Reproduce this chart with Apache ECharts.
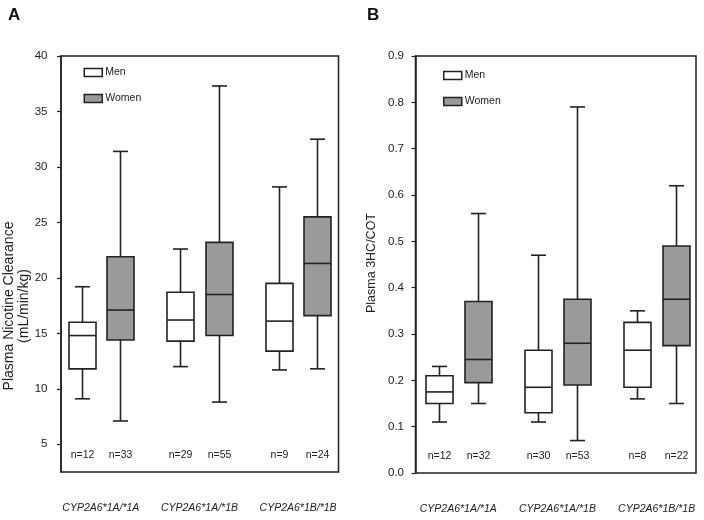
<!DOCTYPE html>
<html>
<head>
<meta charset="utf-8">
<script src="https://cdn.jsdelivr.net/npm/echarts@6/dist/echarts.min.js"></script>
<style>
html,body{margin:0;padding:0;background:#fff;}
#chart{width:704px;height:520px;}
</style>
</head>
<body>
<div id="chart"></div>
<script>
// ---------- data ----------
var genotypes = ['CYP2A6*1A/*1A', 'CYP2A6*1A/*1B', 'CYP2A6*1B/*1B'];
var seriesNames = ['Men', 'Women'];

// Panel A: Plasma nicotine clearance (mL/min/kg) — [min, Q1, median, Q3, max]
var clearanceMen   = [[9.1, 11.8, 14.8, 16.0, 19.2], [12.0, 14.3, 16.2, 18.7, 22.6], [11.7, 13.4, 16.1, 19.5, 28.2]];
var clearanceWomen = [[7.1, 14.4, 17.1, 21.9, 31.4], [8.8, 14.8, 18.5, 23.2, 37.3], [11.8, 16.6, 21.3, 25.5, 32.5]];
var clearanceMenN   = [12, 29, 9];
var clearanceWomenN = [33, 55, 24];
var clearanceTicks  = [5, 10, 15, 20, 25, 30, 35, 40];

// Panel B: Plasma 3HC/COT — [min, Q1, median, Q3, max]
var ratioMen   = [[0.11, 0.15, 0.175, 0.21, 0.23], [0.11, 0.13, 0.185, 0.265, 0.47], [0.16, 0.185, 0.265, 0.325, 0.35]];
var ratioWomen = [[0.15, 0.195, 0.245, 0.37, 0.56], [0.07, 0.19, 0.28, 0.375, 0.79], [0.15, 0.275, 0.375, 0.49, 0.62]];
var ratioMenN   = [12, 30, 8];
var ratioWomenN = [32, 53, 22];
var ratioTicks  = [0.0, 0.1, 0.2, 0.3, 0.4, 0.5, 0.6, 0.7, 0.8, 0.9];

// ---------- helpers ----------
var INK = '#222';
var FONT = 'Arial, "Liberation Sans", Helvetica, sans-serif';
var GRAY = '#9a9a9a';

function toData(stats) {
  return stats.map(function (s, i) { return [i].concat(s); });
}

function makeRender(offset, fill, counts) {
  return function (params, api) {
    var gx = api.value(0) + offset;
    var lo = api.coord([gx, api.value(1)]);
    var q1 = api.coord([gx, api.value(2)]);
    var md = api.coord([gx, api.value(3)]);
    var q3 = api.coord([gx, api.value(4)]);
    var hi = api.coord([gx, api.value(5)]);
    var cx = Math.round(lo[0]) + 0.5;
    var bw = 27, cw = 15;
    var cs = params.coordSys;
    var ls = { stroke: INK, lineWidth: 1.6 };
    return {
      type: 'group',
      children: [
        { type: 'line', shape: { x1: cx, y1: q3[1], x2: cx, y2: hi[1] }, style: ls },
        { type: 'line', shape: { x1: cx - cw / 2, y1: hi[1], x2: cx + cw / 2, y2: hi[1] }, style: ls },
        { type: 'line', shape: { x1: cx, y1: q1[1], x2: cx, y2: lo[1] }, style: ls },
        { type: 'line', shape: { x1: cx - cw / 2, y1: lo[1], x2: cx + cw / 2, y2: lo[1] }, style: ls },
        { type: 'rect', shape: { x: cx - bw / 2, y: q3[1], width: bw, height: q1[1] - q3[1] },
          style: { fill: fill, stroke: INK, lineWidth: 1.6 } },
        { type: 'line', shape: { x1: cx - bw / 2, y1: md[1], x2: cx + bw / 2, y2: md[1] }, style: ls },
        { type: 'text', x: cx, y: cs.y + cs.height - 17,
          style: { text: 'n=' + counts[params.dataIndex], fill: INK, font: '10.5px ' + FONT,
                   align: 'center', verticalAlign: 'middle' } }
      ]
    };
  };
}

function boxSeries(name, gi, stats, offset, fill, counts) {
  return {
    type: 'custom',
    name: name,
    xAxisIndex: gi,
    yAxisIndex: gi,
    data: toData(stats),
    encode: { x: 0, y: [1, 2, 3, 4, 5] },
    itemStyle: { color: fill, borderColor: INK, borderWidth: 1.5 },
    renderItem: makeRender(offset, fill, counts),
    silent: true,
    clip: false
  };
}

function xAxisFor(gi, min, max) {
  return {
    type: 'value', gridIndex: gi, min: min, max: max,
    axisLine: { show: false, onZero: false }, axisTick: { show: false }, splitLine: { show: false },
    axisLabel: {
      customValues: [0, 1, 2],
      formatter: function (v) { return genotypes[Math.round(v)]; },
      fontStyle: 'italic', fontSize: 10.5, color: INK, fontFamily: FONT, margin: 31
    }
  };
}

function yAxisFor(gi, min, max, ticks, digits, margin) {
  return {
    type: 'value', gridIndex: gi, min: min, max: max,
    axisLine: { show: true, onZero: false, lineStyle: { color: INK, width: 1.5 } },
    axisTick: { show: true, customValues: ticks, length: 4, lineStyle: { color: INK, width: 1.2 } },
    splitLine: { show: false },
    axisLabel: {
      customValues: ticks,
      formatter: function (v) { return digits ? v.toFixed(digits) : String(v); },
      fontSize: 11.5, color: INK, fontFamily: FONT, margin: margin
    }
  };
}

function legendFor(left, top) {
  return {
    orient: 'vertical', left: left, top: top, padding: 0,
    itemWidth: 18, itemHeight: 8, itemGap: 15,
    selectedMode: false,
    textStyle: { fontSize: 10.5, color: INK, fontFamily: FONT, padding: [0, 0, 0, -2] },
    data: [
      { name: seriesNames[0], icon: 'rect', itemStyle: { color: '#fff', borderColor: INK, borderWidth: 1.5 } },
      { name: seriesNames[1], icon: 'rect', itemStyle: { color: GRAY, borderColor: INK, borderWidth: 1.5 } }
    ]
  };
}

var OFF = 0.196;

var option = {
  backgroundColor: '#fff',
  animation: false,
  textStyle: { fontFamily: FONT },
  grid: [
    { left: 61, right: 365.5, top: 56, bottom: 48, show: true, borderColor: INK, borderWidth: 1.5, containLabel: false },
    { left: 415.5, right: 8, top: 56, bottom: 47, show: true, borderColor: INK, borderWidth: 1.5, containLabel: false }
  ],
  xAxis: [xAxisFor(0, -0.404, 2.41), xAxisFor(1, -0.431, 2.397)],
  yAxis: [yAxisFor(0, 2.5, 40, clearanceTicks, 0, 13.5), yAxisFor(1, 0, 0.9, ratioTicks, 1, 11.5)],
  legend: [legendFor(83.5, 67), legendFor(443, 70)],
  series: [
    boxSeries(seriesNames[0], 0, clearanceMen, -OFF, '#fff', clearanceMenN),
    boxSeries(seriesNames[1], 0, clearanceWomen, OFF, GRAY, clearanceWomenN),
    boxSeries(seriesNames[0], 1, ratioMen, -OFF, '#fff', ratioMenN),
    boxSeries(seriesNames[1], 1, ratioWomen, OFF, GRAY, ratioWomenN)
  ],
  graphic: [
    { type: 'text', left: 8, top: 7, style: { text: 'A', font: 'bold 17px ' + FONT, fill: '#111' } },
    { type: 'text', left: 367, top: 7, style: { text: 'B', font: 'bold 17px ' + FONT, fill: '#111' } },
    { type: 'text', x: 17, y: 306, rotation: Math.PI / 2,
      style: { text: 'Plasma Nicotine Clearance\n(mL/min/kg)', font: '14px ' + FONT, fill: INK,
               align: 'center', verticalAlign: 'middle', lineHeight: 15 } },
    { type: 'text', x: 372, y: 263, rotation: Math.PI / 2,
      style: { text: 'Plasma 3HC/COT', font: '12.5px ' + FONT, fill: INK,
               align: 'center', verticalAlign: 'middle' } }
  ]
};

var chart = echarts.init(document.getElementById('chart'), null, { renderer: 'canvas' });
chart.setOption(option);
</script>
</body>
</html>
